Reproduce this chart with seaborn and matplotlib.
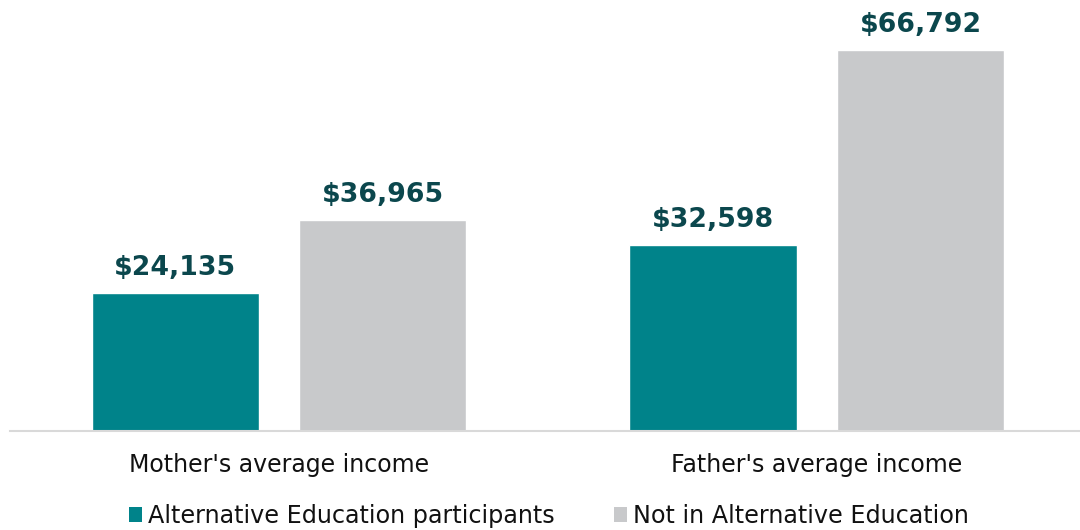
import matplotlib
matplotlib.use("Agg")
import matplotlib.pyplot as plt
from matplotlib.patches import Patch
import seaborn as sns
import pandas as pd

categories = ["Mother's average income", "Father's average income"]
groups = ["Alternative Education participants", "Not in Alternative Education"]
participants = [24135, 32598]
non_participants = [36965, 66792]

colors = ["#00838A", "#C8C9CB"]
label_color = "#0B474D"

df = pd.DataFrame({
    "category": categories * 2,
    "group": [groups[0]] * 2 + [groups[1]] * 2,
    "income": participants + non_participants,
})

sns.set_theme(style="white")
plt.rcParams["font.family"] = ["DejaVu Sans"]

fig = plt.figure(figsize=(10.8, 5.3), dpi=100)
ax = fig.add_axes([10 / 1080, 1 - 431 / 530, 1070 / 1080, 0.8072])

sns.barplot(data=df, x="category", y="income", hue="group",
            order=categories, hue_order=groups, palette=colors,
            width=0.77, gap=0.19, saturation=1, legend=False, ax=ax)

for container, vals in zip(ax.containers, [participants, non_participants]):
    ax.bar_label(container, labels=[f"${v:,.0f}" for v in vals],
                 padding=9, fontsize=19.3, fontweight="bold", color=label_color)

ax.set_ylim(0, 75000)
ax.set_xlim(-0.5, 1.489)
ax.set_xlabel("")
ax.set_ylabel("")
ax.set_yticks([])
for s in ["top", "right", "left"]:
    ax.spines[s].set_visible(False)
ax.spines["bottom"].set_color("#D9D9D9")
ax.spines["bottom"].set_linewidth(1.5)
ax.tick_params(axis="x", length=0, pad=15.5, labelsize=17, labelcolor="#111111")

handles = [Patch(facecolor=c, edgecolor="none") for c in colors]
fig.legend(handles, groups, loc="center", bbox_to_anchor=(549 / 1080, 1 - 516 / 530),
           ncol=2, frameon=False, fontsize=17.2, handlelength=0.55, handleheight=0.55,
           handletextpad=0.25, columnspacing=2.5, labelcolor="#111111")

fig.savefig("out.png", dpi=100)
